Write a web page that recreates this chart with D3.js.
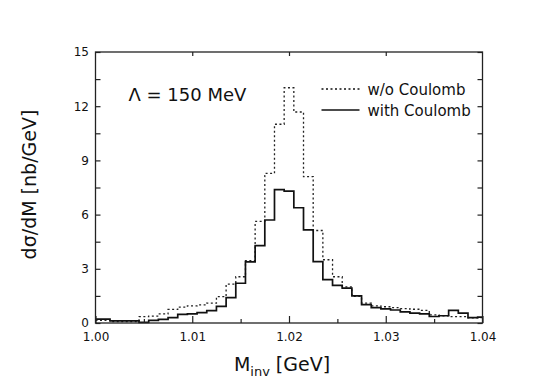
<!DOCTYPE html>
<html>
<head>
<meta charset="utf-8">
<script src="https://cdn.jsdelivr.net/npm/d3@7"></script>
<style>
  body { margin: 0; background: #fff; }
  text { font-family: "DejaVu Sans", Verdana, sans-serif; fill: #111; }
</style>
</head>
<body>
<div id="chart"></div>
<script>
// bin centres in GeV (bins are 1 MeV wide)
const binCenters = d3.range(41).map(i => +(1.000 + i * 0.001).toFixed(3));

// dσ/dM [nb/GeV]
const withCoulomb = [
    0.22, 0.22, 0.12, 0.12, 0.12, 0.03, 0.15, 0.20, 0.30, 0.48,
    0.50, 0.57, 0.68, 0.92, 1.40, 2.20, 3.38, 4.28, 5.70, 7.38,
    7.30, 6.38, 5.15, 3.40, 2.40, 2.08, 1.93, 1.50, 1.02, 0.85,
    0.78, 0.72, 0.62, 0.55, 0.50, 0.36, 0.40, 0.70, 0.55, 0.30,
    0.32
];
const withoutCoulomb = [
    0.15, 0.15, 0.08, 0.08, 0.08, 0.35, 0.38, 0.50, 0.75, 0.88,
    0.95, 1.00, 1.10, 1.46, 2.15, 2.56, 3.45, 5.62, 8.28, 11.00,
    13.02, 11.68, 8.10, 5.12, 3.50, 2.56, 2.00, 1.47, 1.10, 0.95,
    0.90, 0.85, 0.80, 0.76, 0.70, 0.45, 0.40, 0.35, 0.35, 0.28,
    0.30
];

const xTicks = [1.00, 1.01, 1.02, 1.03, 1.04];
const xMinorTicks = [1.005, 1.015, 1.025, 1.035];
const yTicks = [0, 3, 6, 9, 12, 15];
const yMinorTicks = [1.5, 4.5, 7.5, 10.5, 13.5];
const legendLabels = ["w/o Coulomb", "with Coulomb"];

// set the dimensions and margins of the graph
const margin = {top: 52, right: 73.5, bottom: 62, left: 95.5},
    width = 556 - margin.left - margin.right,
    height = 385 - margin.top - margin.bottom;

const svg = d3.select("#chart")
    .append("svg")
    .attr("width", 556)
    .attr("height", 385)
    .append("g")
    .attr("transform", `translate(${margin.left}, ${margin.top})`);

const x = d3.scaleLinear().domain([1.0, 1.04]).range([0, width]);
const y = d3.scaleLinear().domain([0, 15]).range([height, 0]);

// histogram as a step path, bins clipped to the axis range
function stepPoints(values) {
    const pts = [];
    binCenters.forEach((c, i) => {
        const lo = Math.max(1.0, c - 0.0005);
        const hi = Math.min(1.04, c + 0.0005);
        pts.push([lo, values[i]], [hi, values[i]]);
    });
    return pts;
}

const line = d3.line()
    .x(d => x(d[0]))
    .y(d => y(d[1]));

svg.append("path")
    .datum(stepPoints(withoutCoulomb))
    .attr("fill", "none")
    .attr("stroke", "#222")
    .attr("stroke-width", 1.3)
    .attr("stroke-dasharray", "2,2.5")
    .attr("d", line);

svg.append("path")
    .datum(stepPoints(withCoulomb))
    .attr("fill", "none")
    .attr("stroke", "#111")
    .attr("stroke-width", 1.7)
    .attr("d", line);

// axes with inward ticks
svg.append("g")
    .attr("transform", `translate(0, ${height})`)
    .call(d3.axisBottom(x).tickValues(xTicks).tickSize(-7).tickPadding(9)
        .tickFormat(d3.format(".2f")));
svg.append("g")
    .attr("transform", `translate(0, ${height})`)
    .call(d3.axisBottom(x).tickValues(xMinorTicks).tickSize(-4).tickFormat(""));
svg.append("g")
    .call(d3.axisTop(x).tickValues(xTicks.slice(1, -1)).tickSize(-4).tickFormat(""));

svg.append("g")
    .call(d3.axisLeft(y).tickValues(yTicks).tickSize(-5).tickPadding(6.5));
svg.append("g")
    .call(d3.axisLeft(y).tickValues(yMinorTicks).tickSize(-5).tickFormat(""));
svg.append("g")
    .attr("transform", `translate(${width}, 0)`)
    .call(d3.axisRight(y).tickValues(yTicks.concat(yMinorTicks)).tickSize(-5).tickFormat(""));

svg.selectAll(".domain").remove();
svg.selectAll(".tick line").attr("stroke", "#222").attr("stroke-width", 1.2);
svg.selectAll(".tick text")
    .style("font-family", "'DejaVu Sans', sans-serif")
    .style("font-size", "12px")
    .attr("fill", "#111");

// frame
svg.append("rect")
    .attr("width", width)
    .attr("height", height)
    .attr("fill", "none")
    .attr("stroke", "#222")
    .attr("stroke-width", 1.3);

// axis titles
const xTitle = svg.append("text")
    .attr("x", width / 2 - 7)
    .attr("y", height + 48)
    .attr("text-anchor", "middle")
    .style("font-size", "19px");
xTitle.append("tspan").text("M");
xTitle.append("tspan").attr("dy", 5).style("font-size", "13px").text("inv");
xTitle.append("tspan").attr("dy", -5).text(" [GeV]");

svg.append("text")
    .attr("transform", "rotate(-90)")
    .attr("x", -height / 2 + 3)
    .attr("y", -margin.left + 36)
    .attr("text-anchor", "middle")
    .style("font-size", "19px")
    .text("dσ/dM [nb/GeV]");

// annotation
svg.append("text")
    .attr("x", 33)
    .attr("y", 49)
    .style("font-size", "18px")
    .text("Λ = 150 MeV");

// legend
const legend = svg.append("g").attr("transform", "translate(226, 37)");
legendLabels.forEach((label, i) => {
    const g = legend.append("g").attr("transform", `translate(0, ${i * 21})`);
    g.append("line")
        .attr("x1", 0).attr("x2", 38)
        .attr("stroke", "#111")
        .attr("stroke-width", i === 0 ? 1.3 : 1.5)
        .attr("stroke-dasharray", i === 0 ? "2,2.5" : null);
    g.append("text")
        .attr("x", 46)
        .attr("y", 5.5)
        .style("font-size", "15px")
        .text(label);
});
</script>
</body>
</html>
